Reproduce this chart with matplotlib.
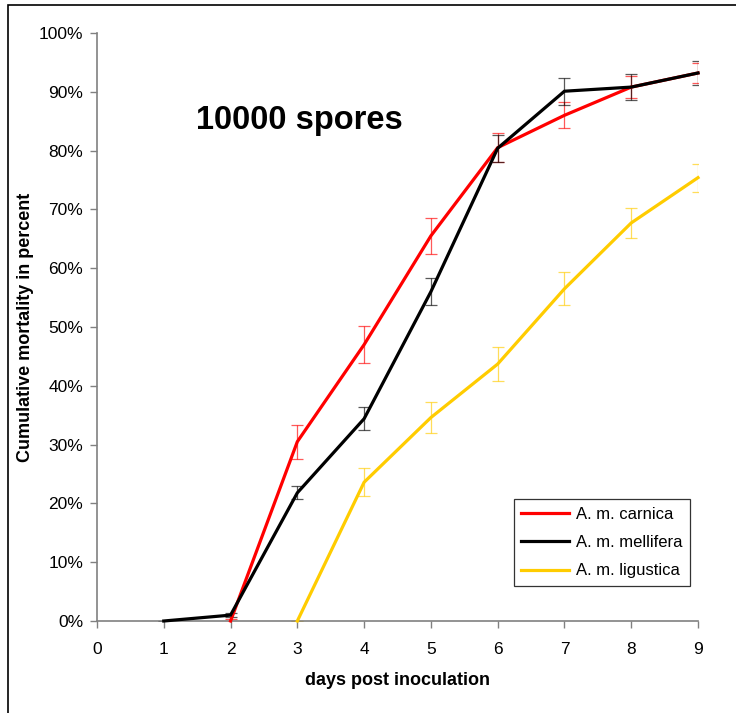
import matplotlib
matplotlib.use("Agg")
import matplotlib.pyplot as plt
from matplotlib.patches import Rectangle
from matplotlib.ticker import PercentFormatter

plt.rcParams['font.family'] = ['Liberation Sans', 'DejaVu Sans']

# Cumulative mortality (%) by day post inoculation, 10000 spores
days_carnica = [2, 3, 4, 5, 6, 7, 8, 9]
carnica = [0.0, 30.5, 47.0, 65.5, 80.5, 86.0, 90.8, 93.2]
carnica_err = [0.3, 2.9, 3.2, 3.0, 2.5, 2.2, 1.9, 1.7]

days_mellifera = [1, 2, 3, 4, 5, 6, 7, 8, 9]
mellifera = [0.0, 1.0, 21.8, 34.4, 56.0, 80.4, 90.1, 90.8, 93.2]
mellifera_err = [0.0, 0.3, 1.1, 2.0, 2.3, 2.3, 2.3, 2.2, 2.1]

days_ligustica = [3, 4, 5, 6, 7, 8, 9]
ligustica = [0.0, 23.6, 34.6, 43.7, 56.5, 67.7, 75.4]
ligustica_err = [0.0, 2.4, 2.7, 2.9, 2.8, 2.6, 2.4]

series = [
    ("A. m. carnica", days_carnica, carnica, carnica_err, "#FF0000"),
    ("A. m. mellifera", days_mellifera, mellifera, mellifera_err, "#000000"),
    ("A. m. ligustica", days_ligustica, ligustica, ligustica_err, "#FFCC00"),
]

fig = plt.figure(figsize=(7.36, 7.13), dpi=100)
ax = fig.add_axes([97 / 736, 1 - 621 / 713, (698 - 97) / 736, (621 - 33) / 713])

for label, x, y, err, color in series:
    ax.errorbar(x, y, yerr=err, fmt='none', ecolor=color, elinewidth=0.9,
                capsize=4.3, capthick=0.9, alpha=0.65, zorder=2)
for label, x, y, err, color in series:
    ax.plot(x, y, color=color, lw=2.3, label=label, zorder=3,
            solid_joinstyle='miter', clip_on=False)

ax.set_xlim(0, 9)
ax.set_ylim(0, 100)
ax.set_xticks(range(0, 10))
ax.set_yticks(range(0, 101, 10))
ax.yaxis.set_major_formatter(PercentFormatter(decimals=0))

for side in ("top", "right"):
    ax.spines[side].set_visible(False)
for side in ("left", "bottom"):
    ax.spines[side].set_color("#808080")
    ax.spines[side].set_linewidth(1.2)
ax.tick_params(axis='both', direction='out', length=5, width=1.0,
               color="#808080", labelsize=12.5, labelcolor="black")
ax.tick_params(axis='x', pad=10)
ax.tick_params(axis='y', pad=5)

ax.set_xlabel("days post inoculation", fontsize=13, fontweight='bold', labelpad=11)
ax.set_ylabel("Cumulative mortality in percent", fontsize=13, fontweight='bold', labelpad=3.5)

ax.text(196 / 736, 1 - 121 / 713, "10000 spores", transform=fig.transFigure,
        fontsize=23.5, fontweight='bold', va='center', ha='left')

leg = ax.legend(loc='lower right', bbox_to_anchor=(690 / 736, 1 - 586 / 713),
                bbox_transform=fig.transFigure, fontsize=12, frameon=True,
                fancybox=False, edgecolor='black', handlelength=2.85,
                borderpad=0.45, labelspacing=0.8, handletextpad=0.45,
                borderaxespad=0)
leg.get_frame().set_linewidth(0.9)

# outer frame around the figure
fig.patches.append(Rectangle((8 / 736, -0.05), 1.2, (713 - 5) / 713 + 0.05,
                             transform=fig.transFigure, fill=False,
                             edgecolor='black', linewidth=1.2))

fig.savefig("out.png", dpi=100)
